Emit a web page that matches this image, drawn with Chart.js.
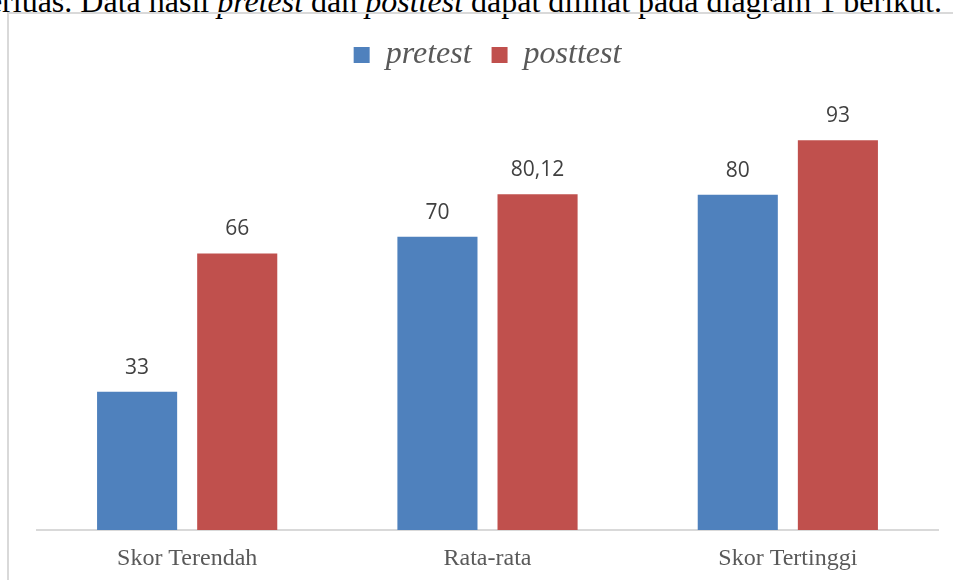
<!DOCTYPE html>
<html>
<head>
<meta charset="utf-8">
<script src="https://cdn.jsdelivr.net/npm/chart.js@4"></script>
<style>
    body { margin: 0; background: #fff; width: 953px; height: 580px; overflow: hidden; position: relative; }
    #lead { position: absolute; right: 11px; top: -15px; font: 32px/32px "Liberation Serif", serif; color: #000; white-space: nowrap; }
    #frame { position: absolute; left: 7px; top: 12px; width: 960px; height: 600px; border: 2px solid #d9d9d9; }
    #barChart { position: absolute; left: 0; top: 0; }
</style>
</head>
<body>
<div id="lead">diperluas. Data hasil <i>pretest</i> dan <i>posttest</i> dapat dilihat pada diagram 1 berikut.</div>
<div id="frame"></div>
<canvas id="barChart" width="953" height="580"></canvas>
<script>
document.addEventListener('DOMContentLoaded', function() {
    const categories = ['Skor Terendah', 'Rata-rata', 'Skor Tertinggi'];
    const pretest = [33, 70, 80];
    const posttest = [66, 80.12, 93];

    // value labels above bars, comma decimals
    const valueLabels = {
        id: 'valueLabels',
        afterDatasetsDraw(chart) {
            const c = chart.ctx;
            c.save();
            c.font = '21px "Open Sans", sans-serif';
            c.fillStyle = '#404040';
            c.textAlign = 'center';
            c.textBaseline = 'alphabetic';
            chart.data.datasets.forEach((ds, i) => {
                chart.getDatasetMeta(i).data.forEach((bar, j) => {
                    c.fillText(String(ds.data[j]).replace('.', ','), bar.x, bar.y - 18);
                });
            });
            c.restore();
        }
    };

    // extra room under the legend
    const legendGap = {
        id: 'legendGap',
        beforeInit(chart) {
            const fit = chart.legend.fit;
            chart.legend.fit = function() {
                fit.bind(chart.legend)();
                this.height += 30;
            };
        }
    };

    const ctx = document.getElementById('barChart').getContext('2d');
    new Chart(ctx, {
        type: 'bar',
        data: {
            labels: categories,
            datasets: [
                { label: 'pretest', data: pretest, backgroundColor: '#4f81bd' },
                { label: 'posttest', data: posttest, backgroundColor: '#c0504d' }
            ]
        },
        options: {
            responsive: false,
            animation: false,
            categoryPercentage: 0.6667,
            barPercentage: 0.8,
            layout: { padding: { left: 37, right: 15, top: 19, bottom: 0 } },
            scales: {
                x: {
                    grid: { display: false },
                    border: { color: '#d9d9d9', width: 2 },
                    ticks: { color: '#595959', padding: 6, font: { family: 'Liberation Serif', size: 24 } },
                    afterFit: (scale) => { scale.height = 50; }
                },
                y: { display: false, min: 0, max: 100 }
            },
            plugins: {
                legend: {
                    labels: {
                        boxWidth: 16,
                        boxHeight: 16,
                        padding: 20,
                        color: '#595959',
                        font: { family: 'Liberation Serif', size: 32, style: 'italic' }
                    }
                },
                tooltip: { enabled: false }
            }
        },
        plugins: [valueLabels, legendGap]
    });
});
</script>
</body>
</html>
